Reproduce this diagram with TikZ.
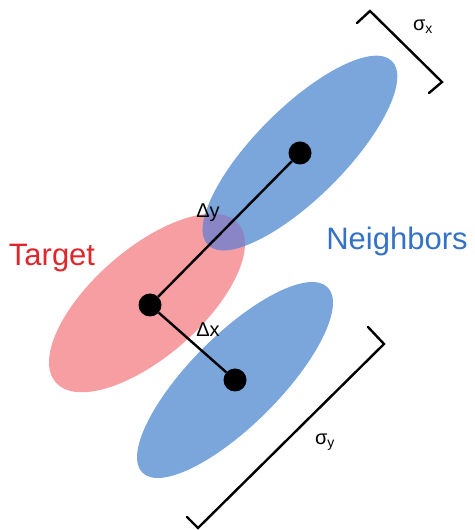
\documentclass[tikz,border=0pt]{standalone}
\usepackage{fontspec}
\setmainfont{Liberation Sans}
\usetikzlibrary{arrows}

\definecolor{tgtfill}{RGB}{246,158,162}
\definecolor{tgttext}{RGB}{222,38,44}
\definecolor{nbfill}{RGB}{122,166,220}
\definecolor{nbtext}{RGB}{52,114,198}
\definecolor{mixfill}{RGB}{138,134,198}

\tikzset{
  dot/.style={circle,fill=black,inner sep=0pt,minimum size=23pt},
  link/.style={line width=2.4pt},
  brace/.style={line width=2.4pt,line cap=round,line join=miter},
  delta/.style={font=\fontsize{20}{22}\selectfont},
  sig/.style={font=\fontsize{20}{22}\selectfont},
  big/.style={font=\fontsize{31}{34}\selectfont}
}

\begin{document}
\begin{tikzpicture}[x=1pt,y=1pt]
      \useasboundingbox (0,0) rectangle (474,530);

      \coordinate (ctgt) at (147,227);
      \coordinate (cup) at (300,377);
      \coordinate (clow) at (235,150);

      \fill[tgtfill,rotate around={41:(ctgt)}] (ctgt) ellipse [x radius=121, y radius=54];
      \fill[nbfill,rotate around={45:(cup)}] (cup) ellipse [x radius=130, y radius=45];
      \fill[nbfill,rotate around={45:(clow)}] (clow) ellipse [x radius=131, y radius=45];
      \begin{scope}
        \clip[rotate around={41:(ctgt)}] (ctgt) ellipse [x radius=121, y radius=54];
        \fill[mixfill,rotate around={45:(cup)}] (cup) ellipse [x radius=130, y radius=45];
      \end{scope}

      \node[dot] (tgt) at (150,225) {};
      \node[dot] (nbup) at (300,377) {};
      \node[dot] (nblow) at (235,150) {};
      \draw[link] (tgt) -- (nbup);
      \draw[link] (tgt) -- (nblow);

      \node[delta] (dy) at (208,317) {Δy};
      \node[delta] (dx) at (208,200) {Δx};

      \node[big,text=tgttext] (lbltgt) at (52,272) {Target};
      \node[big,text=nbtext] (lblnb) at (397,289) {Neighbors};

      % spread brackets
      \draw[brace] (357,507) -- (370,519) -- (442,448) -- (429,437);
      \draw[brace] (368,203) -- (384,186) -- (198,2) -- (187,13);
      \node[sig] (sx) at (423,503) {σ\textsubscript{x}};
      \node[sig] (sy) at (325,88) {σ\textsubscript{y}};
    \end{tikzpicture}
\end{document}
